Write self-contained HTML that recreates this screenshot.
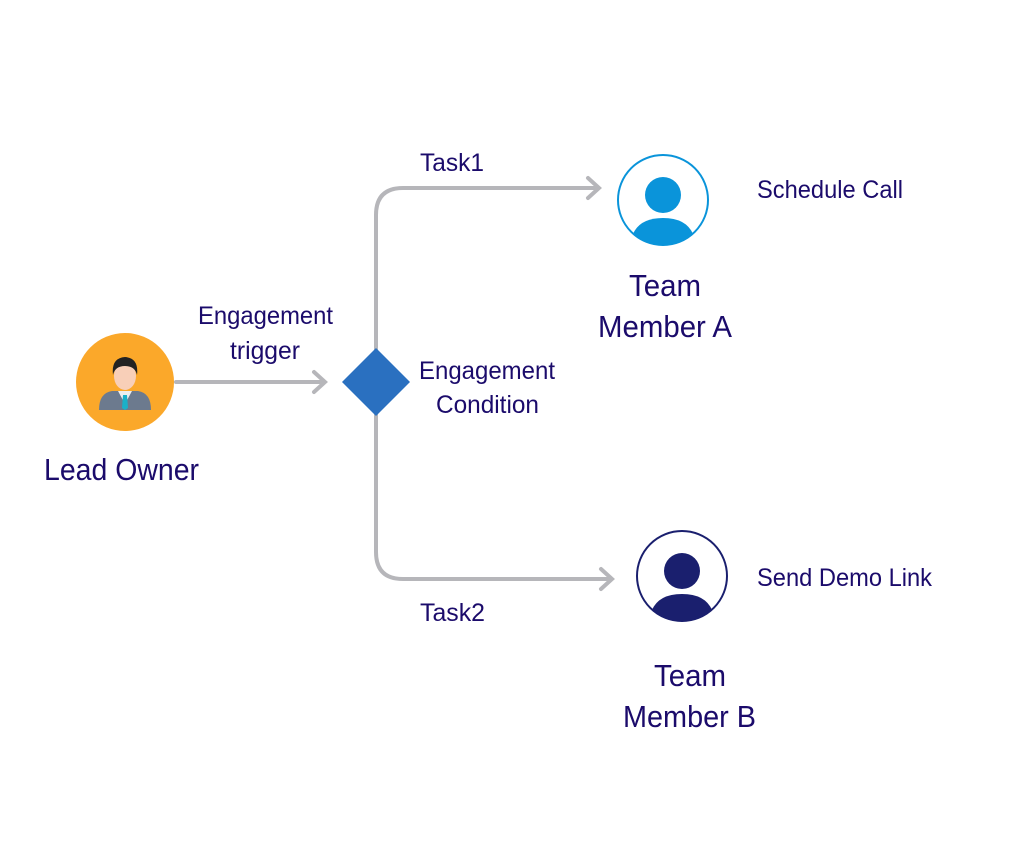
<!DOCTYPE html>
<html><head><style>
body{margin:0;width:1029px;height:858px;background:#fff;overflow:hidden}
svg text{font-family:"Liberation Sans Narrow","Liberation Sans",sans-serif;fill:#1b0b6b}
</style></head><body>
<svg width="1029" height="858" viewBox="0 0 1029 858">
<g stroke="#b6b6ba" stroke-width="4" fill="none" stroke-linecap="round">
<path d="M176 382 H324"/><path d="M314 372 L325 382 L314 392"/>
<path d="M376 352 V215 Q376 188 403 188 H598"/><path d="M588 178 L599 188 L588 198"/>
<path d="M376 412 V552 Q376 579 403 579 H611"/><path d="M601 569 L612 579 L601 589"/>
</g>
<polygon points="376,348 410,382 376,416 342,382" fill="#2a70c0"/>
<circle cx="125" cy="382" r="49" fill="#fba82a"/>
<path d="M99 410 Q99 393 112 391 L138 391 Q151 393 151 410 Z" fill="#6c7a8e"/>
<polygon points="118,391 132,391 125,404" fill="#eee"/>
<polygon points="123,395 127,395 128,408 125,410 122,408" fill="#1ab0c8"/>
<ellipse cx="125" cy="376" rx="11" ry="14" fill="#f8cfb8"/>
<path d="M113 375 Q111 358 125 357 Q139 358 137 375 Q135 366 125 366 Q115 366 113 375Z" fill="#222"/>
<circle cx="663" cy="200" r="45" fill="#fff" stroke="#0a94da" stroke-width="2"/>
<circle cx="663" cy="195" r="18" fill="#0a94da"/>
<path d="M633 234 Q640 218 663 218 Q686 218 693 234 Q680 245 663 245 Q646 245 633 234Z" fill="#0a94da"/>
<circle cx="682" cy="576" r="45" fill="#fff" stroke="#1a1f6e" stroke-width="2"/>
<circle cx="682" cy="571" r="18" fill="#1a1f6e"/>
<path d="M652 610 Q659 594 682 594 Q705 594 712 610 Q699 621 682 621 Q665 621 652 610Z" fill="#1a1f6e"/>
<g font-size="25" lengthAdjust="spacingAndGlyphs">
<text x="198" y="324" textLength="135" lengthAdjust="spacingAndGlyphs">Engagement</text>
<text x="230" y="359" textLength="70" lengthAdjust="spacingAndGlyphs">trigger</text>
<text x="419" y="379" textLength="136" lengthAdjust="spacingAndGlyphs">Engagement</text>
<text x="436" y="413" textLength="103" lengthAdjust="spacingAndGlyphs">Condition</text>
<text x="420" y="171" textLength="64" lengthAdjust="spacingAndGlyphs">Task1</text>
<text x="420" y="621" textLength="65" lengthAdjust="spacingAndGlyphs">Task2</text>
<text x="757" y="198" textLength="146" lengthAdjust="spacingAndGlyphs">Schedule Call</text>
<text x="757" y="586" textLength="175" lengthAdjust="spacingAndGlyphs">Send Demo Link</text>
</g>
<g font-size="31">
<text x="44" y="480" textLength="155" lengthAdjust="spacingAndGlyphs">Lead Owner</text>
<text x="629" y="296" textLength="72" lengthAdjust="spacingAndGlyphs">Team</text>
<text x="598" y="337" textLength="134" lengthAdjust="spacingAndGlyphs">Member A</text>
<text x="654" y="686" textLength="72" lengthAdjust="spacingAndGlyphs">Team</text>
<text x="623" y="727" textLength="133" lengthAdjust="spacingAndGlyphs">Member B</text>
</g>
</svg>
</body></html>
